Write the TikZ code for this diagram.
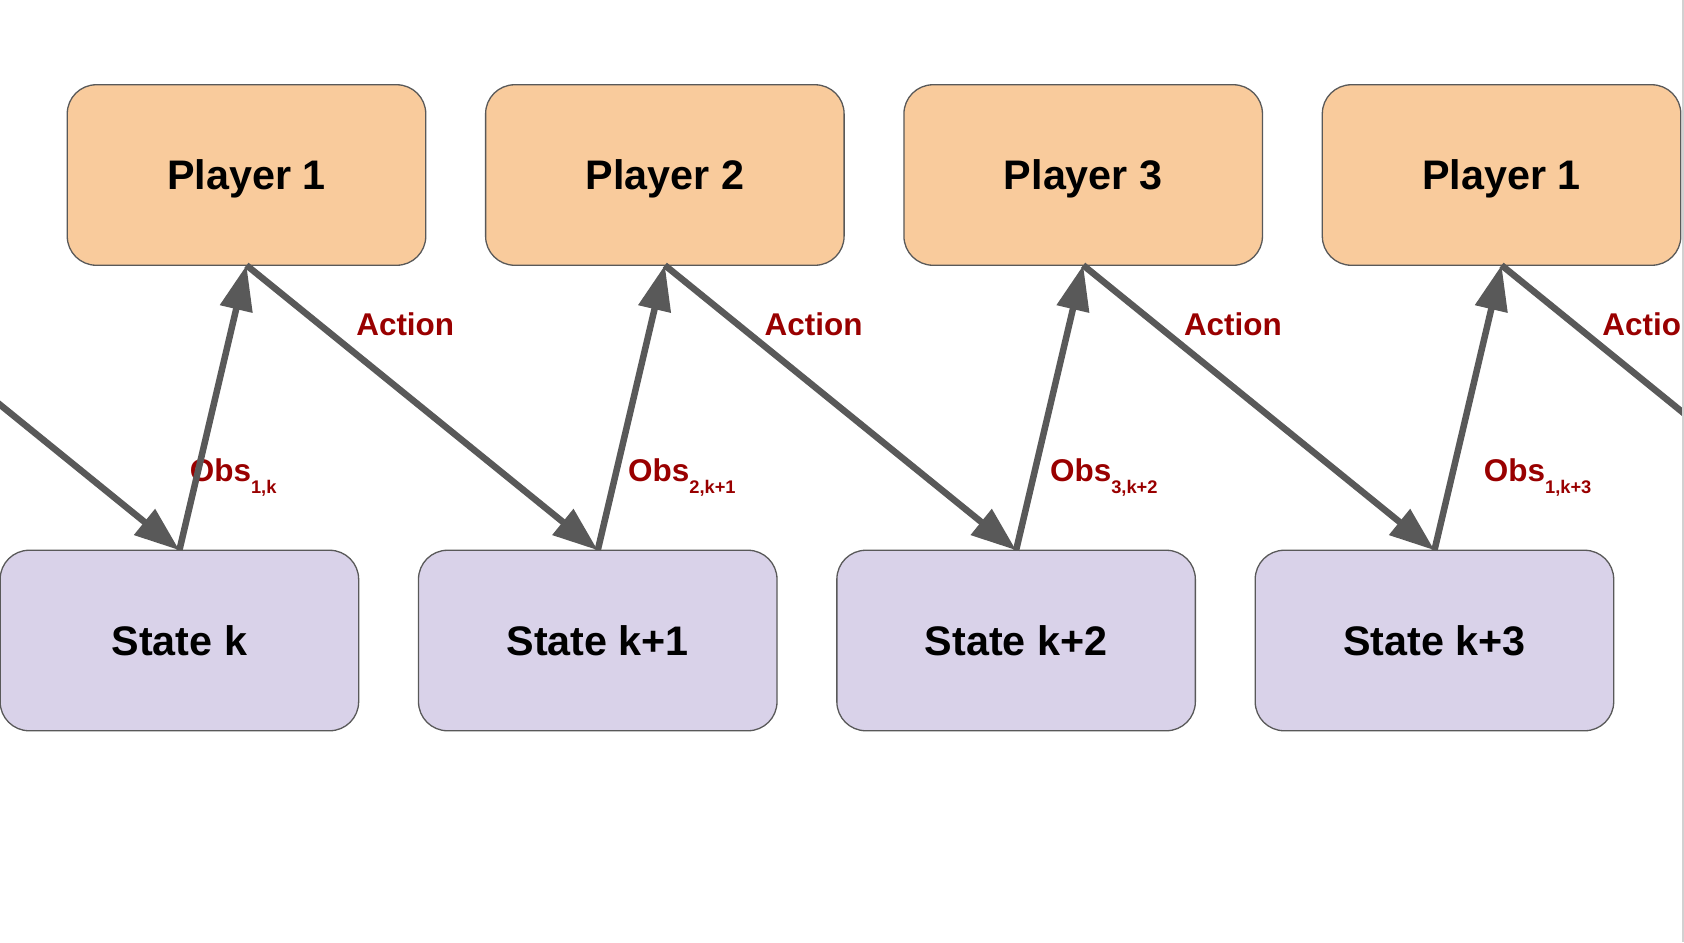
\documentclass[tikz,border=0pt]{standalone}
\usepackage{fontspec}
\setmainfont{Liberation Sans}
\usetikzlibrary{arrows.meta, positioning}

\definecolor{playerfill}{HTML}{F9CB9C}
\definecolor{statefill}{HTML}{D9D2E9}
\definecolor{edgegray}{HTML}{595959}
\definecolor{labelred}{HTML}{990000}
\newcommand{\obsname}[1]{Obs\raisebox{-0.246cm}{\fontsize{10.4}{12}\selectfont #1}}

\begin{document}
\begin{tikzpicture}[
  player/.style = {draw=edgegray, line width=0.026cm, fill=playerfill, rounded corners=0.58cm,
                   minimum width=7.17cm, minimum height=3.61cm, inner sep=0pt, outer sep=0pt,
                   text height=0.59cm, text depth=0cm, font=\fontsize{23.5}{28}\selectfont\bfseries},
  state/.style = {player, fill=statefill},
  arrow/.style = {draw=edgegray, line width=0.13cm, -{Triangle[length=0.9cm, width=0.64cm]}},
  lbl/.style = {behind path, anchor=base west, inner sep=0pt, text=labelred,
                font=\fontsize{17.9}{21}\selectfont\bfseries},
  node distance=1.197cm
]

  \useasboundingbox (0,0) rectangle (33.68,-18.84);
  \clip (0,0) rectangle (33.68,-18.84);

  % Players
  \node[player] (player1) at (4.93,-3.5) {Player 1};
  \node[player, right=of player1] (player2) {Player 2};
  \node[player, right=of player2] (player3) {Player 3};
  \node[player, right=of player3] (player1b) {Player 1};

  % States
  \node[state] (statek) at (3.588,-12.81) {State k};
  \node[state, right=of statek] (statek1) {State k+1};
  \node[state, right=of statek1] (statek2) {State k+2};
  \node[state, right=of statek2] (statek3) {State k+3};

  % loose ends outside the picture
  \coordinate (prevplayer) at (-3.437,-5.305);
  \coordinate (nextstate) at (37.056,-11.01);

  % previous action -> state k
  \draw[arrow] (prevplayer) -- (statek.north);

  % observations: state -> player
  \draw[arrow] (statek.north) -- node[lbl, pos=0.242, xshift=-0.18cm] {\obsname{1,k}} (player1.south);
  \draw[arrow] (statek1.north) -- node[lbl, pos=0.242, xshift=0.22cm] {\obsname{2,k+1}} (player2.south);
  \draw[arrow] (statek2.north) -- node[lbl, pos=0.242, xshift=0.29cm] {\obsname{3,k+2}} (player3.south);
  \draw[arrow] (statek3.north) -- node[lbl, pos=0.242, xshift=0.60cm] {\obsname{1,k+3}} (player1b.south);

  % actions: player -> next state
  \draw[arrow] (player1.south) -- node[lbl, pos=0.245, xshift=0.41cm] {Action} (statek1.north);
  \draw[arrow] (player2.south) -- node[lbl, pos=0.245, xshift=0.21cm] {Action} (statek2.north);
  \draw[arrow] (player3.south) -- node[lbl, pos=0.245, xshift=0.23cm] {Action} (statek3.north);
  \draw[arrow] (player1b.south) -- node[lbl, pos=0.245, xshift=0.23cm] {Action} (nextstate);

  % page edge
  \fill[black!18] (33.635,0) rectangle (33.68,-18.84);

\end{tikzpicture}
\end{document}
